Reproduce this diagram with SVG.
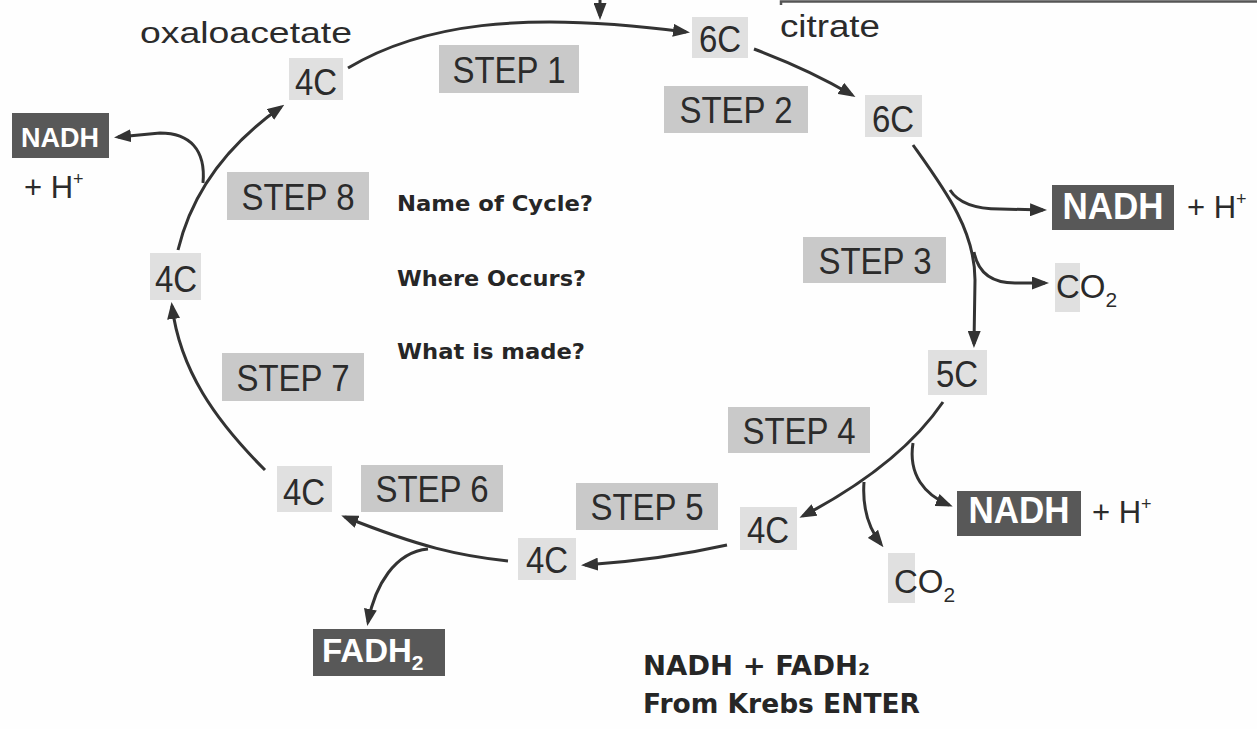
<svg xmlns="http://www.w3.org/2000/svg" width="1257" height="729" viewBox="0 0 1257 729">
<style>
.bg{fill:#fefefe}
.stepbox{fill:#c9c9c9}
.cbox{fill:#e0e0e0}
.dbox{fill:#585858}
.lbl{font-family:"Liberation Sans",Arial,sans-serif;font-size:33px;fill:#2b2b2b;text-anchor:middle}
.plain{font-family:"Liberation Sans",Arial,sans-serif;fill:#2b2b2b}
.dark{font-family:"Liberation Sans",Arial,sans-serif;font-weight:bold;fill:#ffffff;text-anchor:middle}
.darkstart{font-family:"Liberation Sans",Arial,sans-serif;font-weight:bold;fill:#ffffff;text-anchor:start}
.q{font-family:"DejaVu Sans",Verdana,sans-serif;font-weight:bold;fill:#262626}
.conn path{fill:none;stroke:#333;stroke-width:3}
</style>
<defs>
<marker id="ah" markerWidth="17" markerHeight="13" refX="13" refY="6.5" orient="auto" markerUnits="userSpaceOnUse">
<path d="M0,0 L17,6.5 L0,13 z" fill="#333"/>
</marker>
</defs>
<rect class="bg" x="0" y="0" width="1257" height="729"/>
<path d="M781,5 L781,1.5 L1257,1.5" fill="none" stroke="#555" stroke-width="2.5"/>

<g class="conn">
<path d="M348,68 C420,25 520,10 686,32" marker-end="url(#ah)"/>
<path d="M600,0 L600,16" marker-end="url(#ah)"/>
<path d="M754,49 Q810,70 852,95" marker-end="url(#ah)"/>
<path d="M913,145 C945,190 975,230 975,280 L974,344" marker-end="url(#ah)"/>
<path d="M950,190 Q962,209 1000,209 L1043,210" marker-end="url(#ah)"/>
<path d="M974,252 Q980,283 1015,283 L1045,283" marker-end="url(#ah)"/>
<path d="M943,402 Q900,465 803,516" marker-end="url(#ah)"/>
<path d="M913,443 C908,475 925,495 949,505" marker-end="url(#ah)"/>
<path d="M864,482 C862,510 870,530 881,544" marker-end="url(#ah)"/>
<path d="M727,545 Q660,560 585,565" marker-end="url(#ah)"/>
<path d="M508,561 C460,556 420,547 345,517" marker-end="url(#ah)"/>
<path d="M428,549 C395,552 375,585 368,622" marker-end="url(#ah)"/>
<path d="M265,470 C215,420 180,370 172,306" marker-end="url(#ah)"/>
<path d="M178,250 C190,200 220,150 281,107" marker-end="url(#ah)"/>
<path d="M203,183 C206,150 190,133 160,133 L118,137" marker-end="url(#ah)"/>
</g>

<g id="oxaloacetate-label"><text class="plain" x="140" y="43" font-size="30" textLength="212" lengthAdjust="spacingAndGlyphs">oxaloacetate</text></g>
<g id="citrate-label"><text class="plain" x="780" y="37" font-size="31" textLength="100" lengthAdjust="spacingAndGlyphs">citrate</text></g>

<g id="c4-oxaloacetate"><rect class="cbox" x="289" y="58" width="54" height="42"/><text class="lbl" transform="translate(316,95) scale(1,1.12)">4C</text></g>
<g id="c6-top"><rect class="cbox" x="692" y="17" width="56" height="41"/><text class="lbl" transform="translate(720,52) scale(1,1.12)">6C</text></g>
<g id="c6-right"><rect class="cbox" x="865" y="95" width="57" height="42"/><text class="lbl" transform="translate(893,132) scale(1,1.12)">6C</text></g>
<g id="c5"><rect class="cbox" x="928" y="350" width="59" height="45"/><text class="lbl" transform="translate(957,387) scale(1,1.12)">5C</text></g>
<g id="c4-step4"><rect class="cbox" x="740" y="507" width="57" height="43"/><text class="lbl" transform="translate(768,543) scale(1,1.12)">4C</text></g>
<g id="c4-step5"><rect class="cbox" x="518" y="538" width="58" height="42"/><text class="lbl" transform="translate(547,573) scale(1,1.12)">4C</text></g>
<g id="c4-step6"><rect class="cbox" x="277" y="466" width="55" height="46"/><text class="lbl" transform="translate(304,505) scale(1,1.12)">4C</text></g>
<g id="c4-left"><rect class="cbox" x="150" y="253" width="51" height="47"/><text class="lbl" transform="translate(176,292) scale(1,1.12)">4C</text></g>

<g id="step1"><rect class="stepbox" x="439" y="45" width="140" height="48"/><text class="lbl" transform="translate(509,83) scale(1,1.12)">STEP 1</text></g>
<g id="step2"><rect class="stepbox" x="664" y="86" width="144" height="47"/><text class="lbl" transform="translate(736,123) scale(1,1.12)">STEP 2</text></g>
<g id="step3"><rect class="stepbox" x="803" y="237" width="143" height="46"/><text class="lbl" transform="translate(875,274) scale(1,1.12)">STEP 3</text></g>
<g id="step4"><rect class="stepbox" x="728" y="407" width="142" height="46"/><text class="lbl" transform="translate(799,444) scale(1,1.12)">STEP 4</text></g>
<g id="step5"><rect class="stepbox" x="576" y="483" width="142" height="47"/><text class="lbl" transform="translate(647,520) scale(1,1.12)">STEP 5</text></g>
<g id="step6"><rect class="stepbox" x="361" y="465" width="142" height="47"/><text class="lbl" transform="translate(432,502) scale(1,1.12)">STEP 6</text></g>
<g id="step7"><rect class="stepbox" x="222" y="353" width="142" height="48"/><text class="lbl" transform="translate(293,391) scale(1,1.12)">STEP 7</text></g>
<g id="step8"><rect class="stepbox" x="227" y="172" width="142" height="48"/><text class="lbl" transform="translate(298,210) scale(1,1.12)">STEP 8</text></g>

<g id="nadh-left"><rect class="dbox" x="12" y="113" width="97" height="45"/><text class="dark" x="60" y="147" font-size="27">NADH</text></g>
<g id="h-left"><text class="plain" x="24" y="198" font-size="31">+ H<tspan font-size="18" dy="-13">+</tspan></text></g>
<g id="nadh-right-top"><rect class="dbox" x="1052" y="185" width="122" height="45"/><text class="dark" transform="translate(1113,219) scale(1,1.05)" font-size="35">NADH</text></g>
<g id="h-right-top"><text class="plain" x="1187" y="218" font-size="31">+ H<tspan font-size="18" dy="-13">+</tspan></text></g>
<g id="co2-step3"><rect class="cbox" x="1055" y="263" width="25" height="49"/><text class="plain" x="1056" y="298" font-size="33">CO<tspan font-size="21" dy="9">2</tspan></text></g>
<g id="nadh-right-bottom"><rect class="dbox" x="957" y="491" width="124" height="45"/><text class="dark" transform="translate(1019,523) scale(1,1.05)" font-size="35">NADH</text></g>
<g id="h-right-bottom"><text class="plain" x="1092" y="523" font-size="31">+ H<tspan font-size="18" dy="-13">+</tspan></text></g>
<g id="co2-step4"><rect class="cbox" x="888" y="553" width="27" height="50"/><text class="plain" x="894" y="593" font-size="33">CO<tspan font-size="21" dy="9">2</tspan></text></g>
<g id="fadh2"><rect class="dbox" x="313" y="629" width="132" height="47"/><text class="darkstart" x="322" y="662" font-size="33">FADH<tspan font-size="21" dy="8">2</tspan></text></g>

<g id="questions">
<text class="q" x="397" y="211" font-size="22" textLength="196" lengthAdjust="spacingAndGlyphs">Name of Cycle?</text>
<text class="q" x="397" y="286" font-size="22" textLength="189" lengthAdjust="spacingAndGlyphs">Where Occurs?</text>
<text class="q" x="397" y="359" font-size="22" textLength="188" lengthAdjust="spacingAndGlyphs">What is made?</text>
</g>
<g id="note">
<text class="q" x="643" y="675" font-size="27" textLength="227" lengthAdjust="spacingAndGlyphs">NADH + FADH₂</text>
<text class="q" x="643" y="713" font-size="27" textLength="277" lengthAdjust="spacingAndGlyphs">From Krebs ENTER</text>
</g>
</svg>
